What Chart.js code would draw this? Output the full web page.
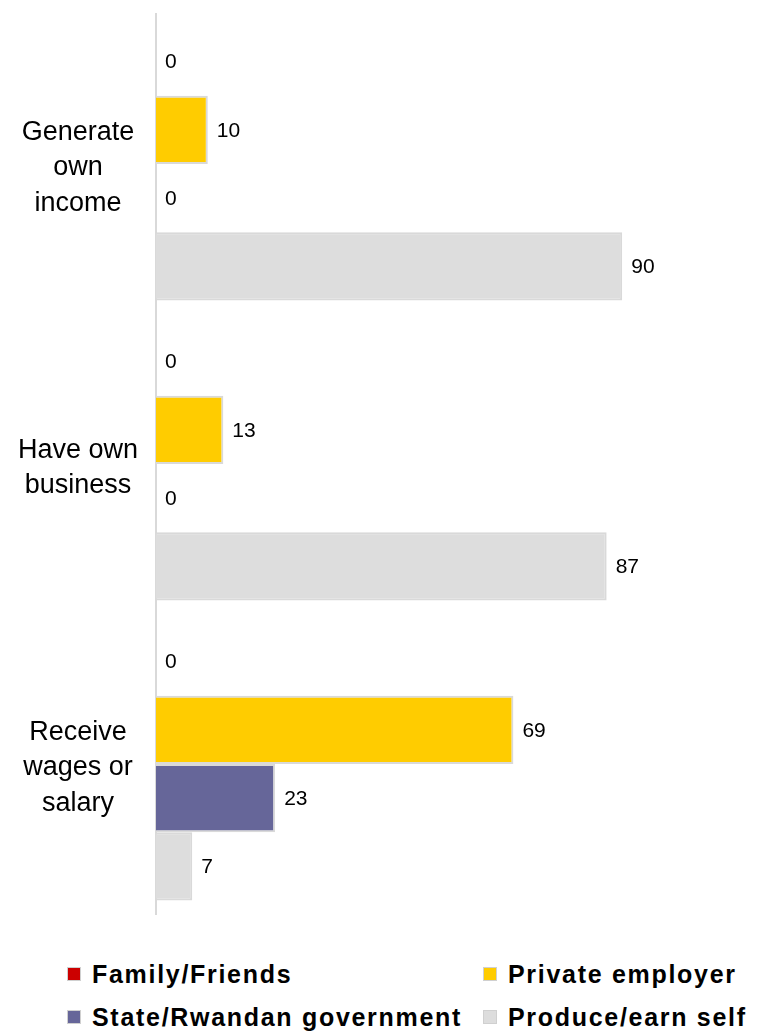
<!DOCTYPE html>
<html>
<head>
<meta charset="utf-8">
<script src="https://cdn.jsdelivr.net/npm/chart.js@4/dist/chart.umd.min.js"></script>
<style>
  html, body { margin: 0; padding: 0; background: #ffffff; }
  #wrap { position: relative; width: 758px; height: 1033px; }
  #chartBox { position: absolute; left: 0; top: 0; width: 758px; height: 940px; }
  .legend-item {
    position: absolute; display: flex; align-items: center;
    font-family: "Liberation Sans", Arial, sans-serif; font-weight: bold;
    font-size: 25px; letter-spacing: 1.7px; color: #000; white-space: nowrap;
    height: 30px; line-height: 30px;
  }
  .legend-item .swatch {
    width: 12px; height: 12px; border: 1px solid #d0d0d0; margin-right: 11px; flex: none;
  }
</style>
</head>
<body>
<div id="wrap">
  <div id="chartBox"><canvas id="chart"></canvas></div>
  <div id="legend"></div>
</div>
<script>
// Categories (multi-line axis labels) and series values, in percent
const categories = [
  ['Generate', 'own', 'income'],
  ['Have own', 'business'],
  ['Receive', 'wages or', 'salary']
];
const seriesNames = ['Family/Friends', 'Private employer', 'State/Rwandan government', 'Produce/earn self'];
const familyFriends   = [0, 0, 0];
const privateEmployer = [10, 13, 69];
const stateGovernment = [0, 0, 23];
const produceEarnSelf = [90, 87, 7];
const seriesColors = ['#cc0000', '#ffcc00', '#666699', '#dddddd'];

const seriesValues = [familyFriends, privateEmployer, stateGovernment, produceEarnSelf];

// Value labels drawn just past the end of each bar
const valueLabels = {
  id: 'valueLabels',
  afterDatasetsDraw(chart) {
    const ctx = chart.ctx;
    ctx.save();
    ctx.font = '21px "Liberation Sans", Arial, sans-serif';
    ctx.fillStyle = '#000000';
    ctx.textAlign = 'left';
    ctx.textBaseline = 'middle';
    chart.data.datasets.forEach((ds, i) => {
      const meta = chart.getDatasetMeta(i);
      meta.data.forEach((bar, j) => {
        ctx.fillText(String(ds.data[j]), bar.x + 9, bar.y + 1);
      });
    });
    ctx.restore();
  }
};

new Chart(document.getElementById('chart'), {
  type: 'bar',
  data: {
    labels: categories,
    datasets: seriesNames.map((name, i) => ({
      label: name,
      data: seriesValues[i],
      backgroundColor: seriesColors[i],
      borderColor: '#d9d9d9',
      borderWidth: 2,
      categoryPercentage: 0.91,
      barPercentage: 1.0
    }))
  },
  options: {
    indexAxis: 'y',
    responsive: true,
    maintainAspectRatio: false,
    animation: false,
    layout: { padding: { top: 14, bottom: 26, right: 84, left: 0 } },
    plugins: { legend: { display: false }, tooltip: { enabled: false } },
    scales: {
      x: { display: false, min: 0, max: 100 },
      y: {
        grid: { display: false, drawTicks: false },
        border: { display: true, color: '#d9d9d9', width: 2 },
        ticks: {
          crossAlign: 'center',
          padding: 18,
          labelOffset: 4,
          color: '#000000',
          font: { family: '"Liberation Sans", Arial, sans-serif', size: 27, lineHeight: 1.3 }
        },
        afterFit(scale) {
          // fixed axis width; multi-line labels sit inside their category band
          scale.width = 156;
          scale.paddingTop = 0;
          scale.paddingBottom = 0;
        }
      }
    }
  },
  plugins: [valueLabels]
});

// Two-column legend under the plot
const legendPos = [
  { left: 67, top: 959 }, { left: 483, top: 959 },
  { left: 67, top: 1002 }, { left: 483, top: 1002 }
];
const legend = document.getElementById('legend');
seriesNames.forEach((name, i) => {
  const item = document.createElement('div');
  item.className = 'legend-item';
  item.style.left = legendPos[i].left + 'px';
  item.style.top = legendPos[i].top + 'px';
  const sw = document.createElement('span');
  sw.className = 'swatch';
  sw.style.background = seriesColors[i];
  const tx = document.createElement('span');
  tx.textContent = name;
  item.appendChild(sw);
  item.appendChild(tx);
  legend.appendChild(item);
});
</script>
</body>
</html>
